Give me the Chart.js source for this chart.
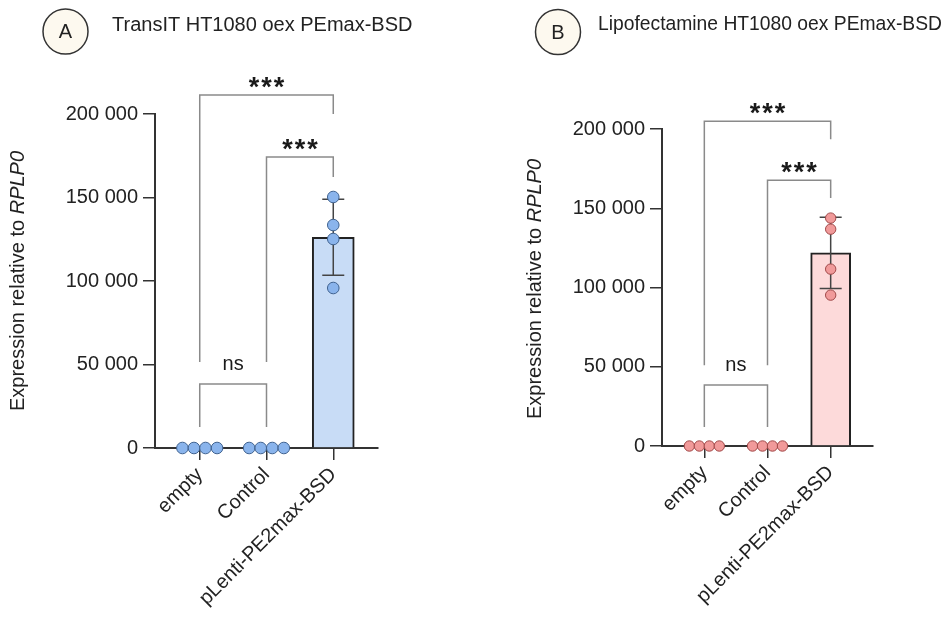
<!DOCTYPE html>
<html><head><meta charset="utf-8">
<script src="https://cdn.jsdelivr.net/npm/chart.js@4.4.1/dist/chart.umd.min.js"></script>
<style>
html,body{margin:0;padding:0;background:#fff;}
#wrap{position:relative;width:947px;height:620px;overflow:hidden;}
canvas{position:absolute;left:0;top:0;}
</style></head><body>
<div id="wrap"><canvas id="cA" width="947" height="620"></canvas><canvas id="cB" width="947" height="620"></canvas></div>
<script>
// ---------- DATA ----------
const categories = ['empty', 'Control', 'pLenti-PE2max-BSD'];
const yTickValues = [0, 50000, 100000, 150000, 200000];
const yTitleText = 'Expression relative to ';
const yTitleGene = 'RPLP0';

const titleA = 'TransIT HT1080 oex PEmax-BSD';
const panelA = 'A';
const repsA_empty   = [1.0, 1.1, 0.9, 1.0];
const repsA_control = [1.0, 0.9, 1.1, 1.0];
const repsA_pLenti  = [150300, 133500, 125150, 95800];

const titleB = 'Lipofectamine HT1080 oex PEmax-BSD';
const panelB = 'B';
const repsB_empty   = [1.0, 1.1, 0.9, 1.0];
const repsB_control = [1.0, 0.9, 1.1, 1.0];
const repsB_pLenti  = [143800, 136800, 111600, 95200];

// significance comparisons: [fromIndex, toIndex, label]
const sigA = [[0, 1, 'ns'], [1, 2, '***'], [0, 2, '***']];
const sigB = [[0, 1, 'ns'], [1, 2, '***'], [0, 2, '***']];

// ---------- HELPERS ----------
const FONT = '"Liberation Sans", Arial, Helvetica, sans-serif';
Chart.defaults.font.family = FONT;
Chart.defaults.font.size = 20;
Chart.defaults.color = '#222';

const mean = a => a.reduce((s, v) => s + v, 0) / a.length;
const sd = a => { const m = mean(a); return Math.sqrt(a.reduce((s, v) => s + (v - m) * (v - m), 0) / (a.length - 1)); };
const fmt = v => String(v).replace(/\B(?=(\d{3})+(?!\d))/g, ' ');

const annotPlugin = {
  id: 'annot',
  afterDatasetDraw(chart, args, o) {
    if (args.meta.type !== 'bar') return;
    const ctx = chart.ctx, xs = chart.scales.x, ys = chart.scales.y;
    ctx.save();
    ctx.strokeStyle = '#444'; ctx.lineWidth = 1.5;
    o.means.forEach((m, i) => {
      const x = xs.getPixelForValue(i);
      const yt = ys.getPixelForValue(m + o.sds[i]);
      const yb = ys.getPixelForValue(m - o.sds[i]);
      if (Math.abs(yb - yt) < 2) return;
      ctx.beginPath();
      ctx.moveTo(x, yt); ctx.lineTo(x, yb);
      ctx.moveTo(x - o.cap, yt); ctx.lineTo(x + o.cap, yt);
      ctx.moveTo(x - o.cap, yb); ctx.lineTo(x + o.cap, yb);
      ctx.stroke();
    });
    ctx.restore();
  },
  afterDraw(chart, args, o) {
    const ctx = chart.ctx, xs = chart.scales.x, ys = chart.scales.y;
    ctx.save();
    // brackets
    ctx.strokeStyle = '#8a8a8a'; ctx.lineWidth = 1.5;
    o.sig.forEach((s, k) => {
      const g = o.bracketGeom[k];
      const x1 = xs.getPixelForValue(s[0]), x2 = xs.getPixelForValue(s[1]);
      const y = ys.getPixelForValue(g[0]);
      ctx.beginPath();
      ctx.moveTo(x1, ys.getPixelForValue(g[1]));
      ctx.lineTo(x1, y); ctx.lineTo(x2, y);
      ctx.lineTo(x2, ys.getPixelForValue(g[2]));
      ctx.stroke();
      ctx.fillStyle = '#1a1a1a';
      ctx.textAlign = 'center'; ctx.textBaseline = 'alphabetic';
      if (s[2] === 'ns') {
        ctx.font = '20px ' + FONT;
        ctx.fillText(s[2], (x1 + x2) / 2, y - 14);
      } else {
        ctx.font = 'bold 27px ' + FONT;
        const cx = (x1 + x2) / 2, step = 12.5;
        for (let j = -1; j <= 1; j++) ctx.fillText('*', cx + j * step, y + 1);
      }
    });
    // y title
    ctx.fillStyle = '#222';
    ctx.font = '20px ' + FONT;
    const w1 = ctx.measureText(yTitleText).width;
    ctx.font = 'italic 20px ' + FONT;
    const w2 = ctx.measureText(yTitleGene).width;
    ctx.translate(o.yTitle[0], o.yTitle[1]);
    ctx.rotate(-Math.PI / 2);
    ctx.textAlign = 'left'; ctx.textBaseline = 'middle';
    ctx.font = '20px ' + FONT;
    ctx.fillText(yTitleText, -(w1 + w2) / 2, 0);
    ctx.font = 'italic 20px ' + FONT;
    ctx.fillText(yTitleGene, -(w1 + w2) / 2 + w1, 0);
    ctx.setTransform(1, 0, 0, 1, 0, 0);
    // panel circle + title
    ctx.beginPath();
    ctx.arc(o.circle[0], o.circle[1], 22.5, 0, Math.PI * 2);
    ctx.fillStyle = '#fdf9ef'; ctx.fill();
    ctx.strokeStyle = '#333'; ctx.lineWidth = 1.5; ctx.stroke();
    ctx.fillStyle = '#222'; ctx.font = '20px ' + FONT;
    ctx.textAlign = 'center'; ctx.textBaseline = 'middle';
    ctx.fillText(o.panel, o.circle[0], o.circle[1] + 1);
    ctx.textAlign = 'left';
    ctx.font = o.titleSize + 'px ' + FONT;
    ctx.fillText(o.title, o.titlePos[0], o.titlePos[1]);
    ctx.restore();
  }
};

function makeChart(id, p) {
  const means = p.reps.map(mean), sds = p.reps.map(sd);
  const pts = [];
  p.reps.forEach((arr, i) => {
    const collide = (Math.max(...arr) - Math.min(...arr)) < 2000;
    arr.forEach((v, j) => pts.push({ x: i + (collide ? (j - (arr.length - 1) / 2) * p.jitter : 0), y: v }));
  });
  return new Chart(document.getElementById(id), {
    type: 'bar',
    data: {
      datasets: [
        { type: 'scatter', data: pts, order: 0, clip: false,
          pointRadius: p.r, pointHoverRadius: p.r,
          pointBackgroundColor: p.pointFill, pointBorderColor: p.pointStroke, pointBorderWidth: 1 },
        { type: 'bar', data: means.map((m, i) => ({ x: i, y: m })), order: 1,
          backgroundColor: p.barFill, borderColor: '#222', borderWidth: 2,
          barThickness: p.barW, borderSkipped: 'start' }
      ]
    },
    options: {
      responsive: false, animation: false, devicePixelRatio: 1,
      events: [],
      layout: { padding: { left: p.padLeft, top: p.top, right: 947 - p.right, bottom: 0 } },
      plugins: {
        legend: { display: false }, tooltip: { enabled: false },
        annot: { means, sds, cap: 11, sig: p.sig, bracketGeom: p.bracketGeom,
                 yTitle: p.yTitle, circle: p.circle, panel: p.panel, title: p.title,
                 titlePos: p.titlePos, titleSize: p.titleSize }
      },
      scales: {
        x: {
          type: 'linear', min: -0.67, max: 2.67, offset: false,
          afterBuildTicks: s => { s.ticks = categories.map((c, i) => ({ value: i })); },
          afterFit: s => { s.height = 620 - p.bottom; },
          ticks: { callback: v => categories[v], minRotation: 45, maxRotation: 45, autoSkip: false,
                   padding: 3, color: '#222', font: { size: 20 } },
          grid: { offset: false, drawOnChartArea: false, drawTicks: true, tickLength: 12, color: '#333', lineWidth: 1.5 },
          border: { display: true, color: '#333', width: 2 }
        },
        y: {
          type: 'linear', min: 0, max: 200000,
          afterBuildTicks: s => { s.ticks = yTickValues.map(v => ({ value: v })); },
          afterFit: s => { s.width = p.left - p.padLeft; },
          ticks: { callback: v => fmt(v), padding: 5, color: '#222', font: { size: 20 } },
          grid: { offset: false, drawOnChartArea: false, drawTicks: true, tickLength: 12, color: '#333', lineWidth: 1.5 },
          border: { display: true, color: '#333', width: 2 }
        }
      }
    },
    plugins: [annotPlugin]
  });
}

makeChart('cA', {
  reps: [repsA_empty, repsA_control, repsA_pLenti],
  padLeft: 0, left: 155, right: 378, top: 114, bottom: 448,
  jitter: 0.173, r: 5.8, barW: 42,
  pointFill: '#8ab4ec', pointStroke: '#3f6290', barFill: '#c8dcf6',
  sig: sigA,
  bracketGeom: [[38300, 12600, 12600], [174250, 51500, 162300], [211400, 51500, 200000]],
  yTitle: [18, 281], circle: [65.5, 31.5], panel: panelA, title: titleA, titlePos: [112, 25], titleSize: 20
});

makeChart('cB', {
  reps: [repsB_empty, repsB_control, repsB_pLenti],
  padLeft: 470, left: 662, right: 873, top: 129, bottom: 446,
  jitter: 0.158, r: 5.2, barW: 40,
  pointFill: '#f19a9a', pointStroke: '#a04848', barFill: '#fddada',
  sig: sigB,
  bracketGeom: [[38460, 12000, 12000], [167700, 51000, 156400], [204900, 51000, 193600]],
  yTitle: [535, 289], circle: [558, 32], panel: panelB, title: titleB, titlePos: [598, 25], titleSize: 19.3
});
</script>
</body></html>
